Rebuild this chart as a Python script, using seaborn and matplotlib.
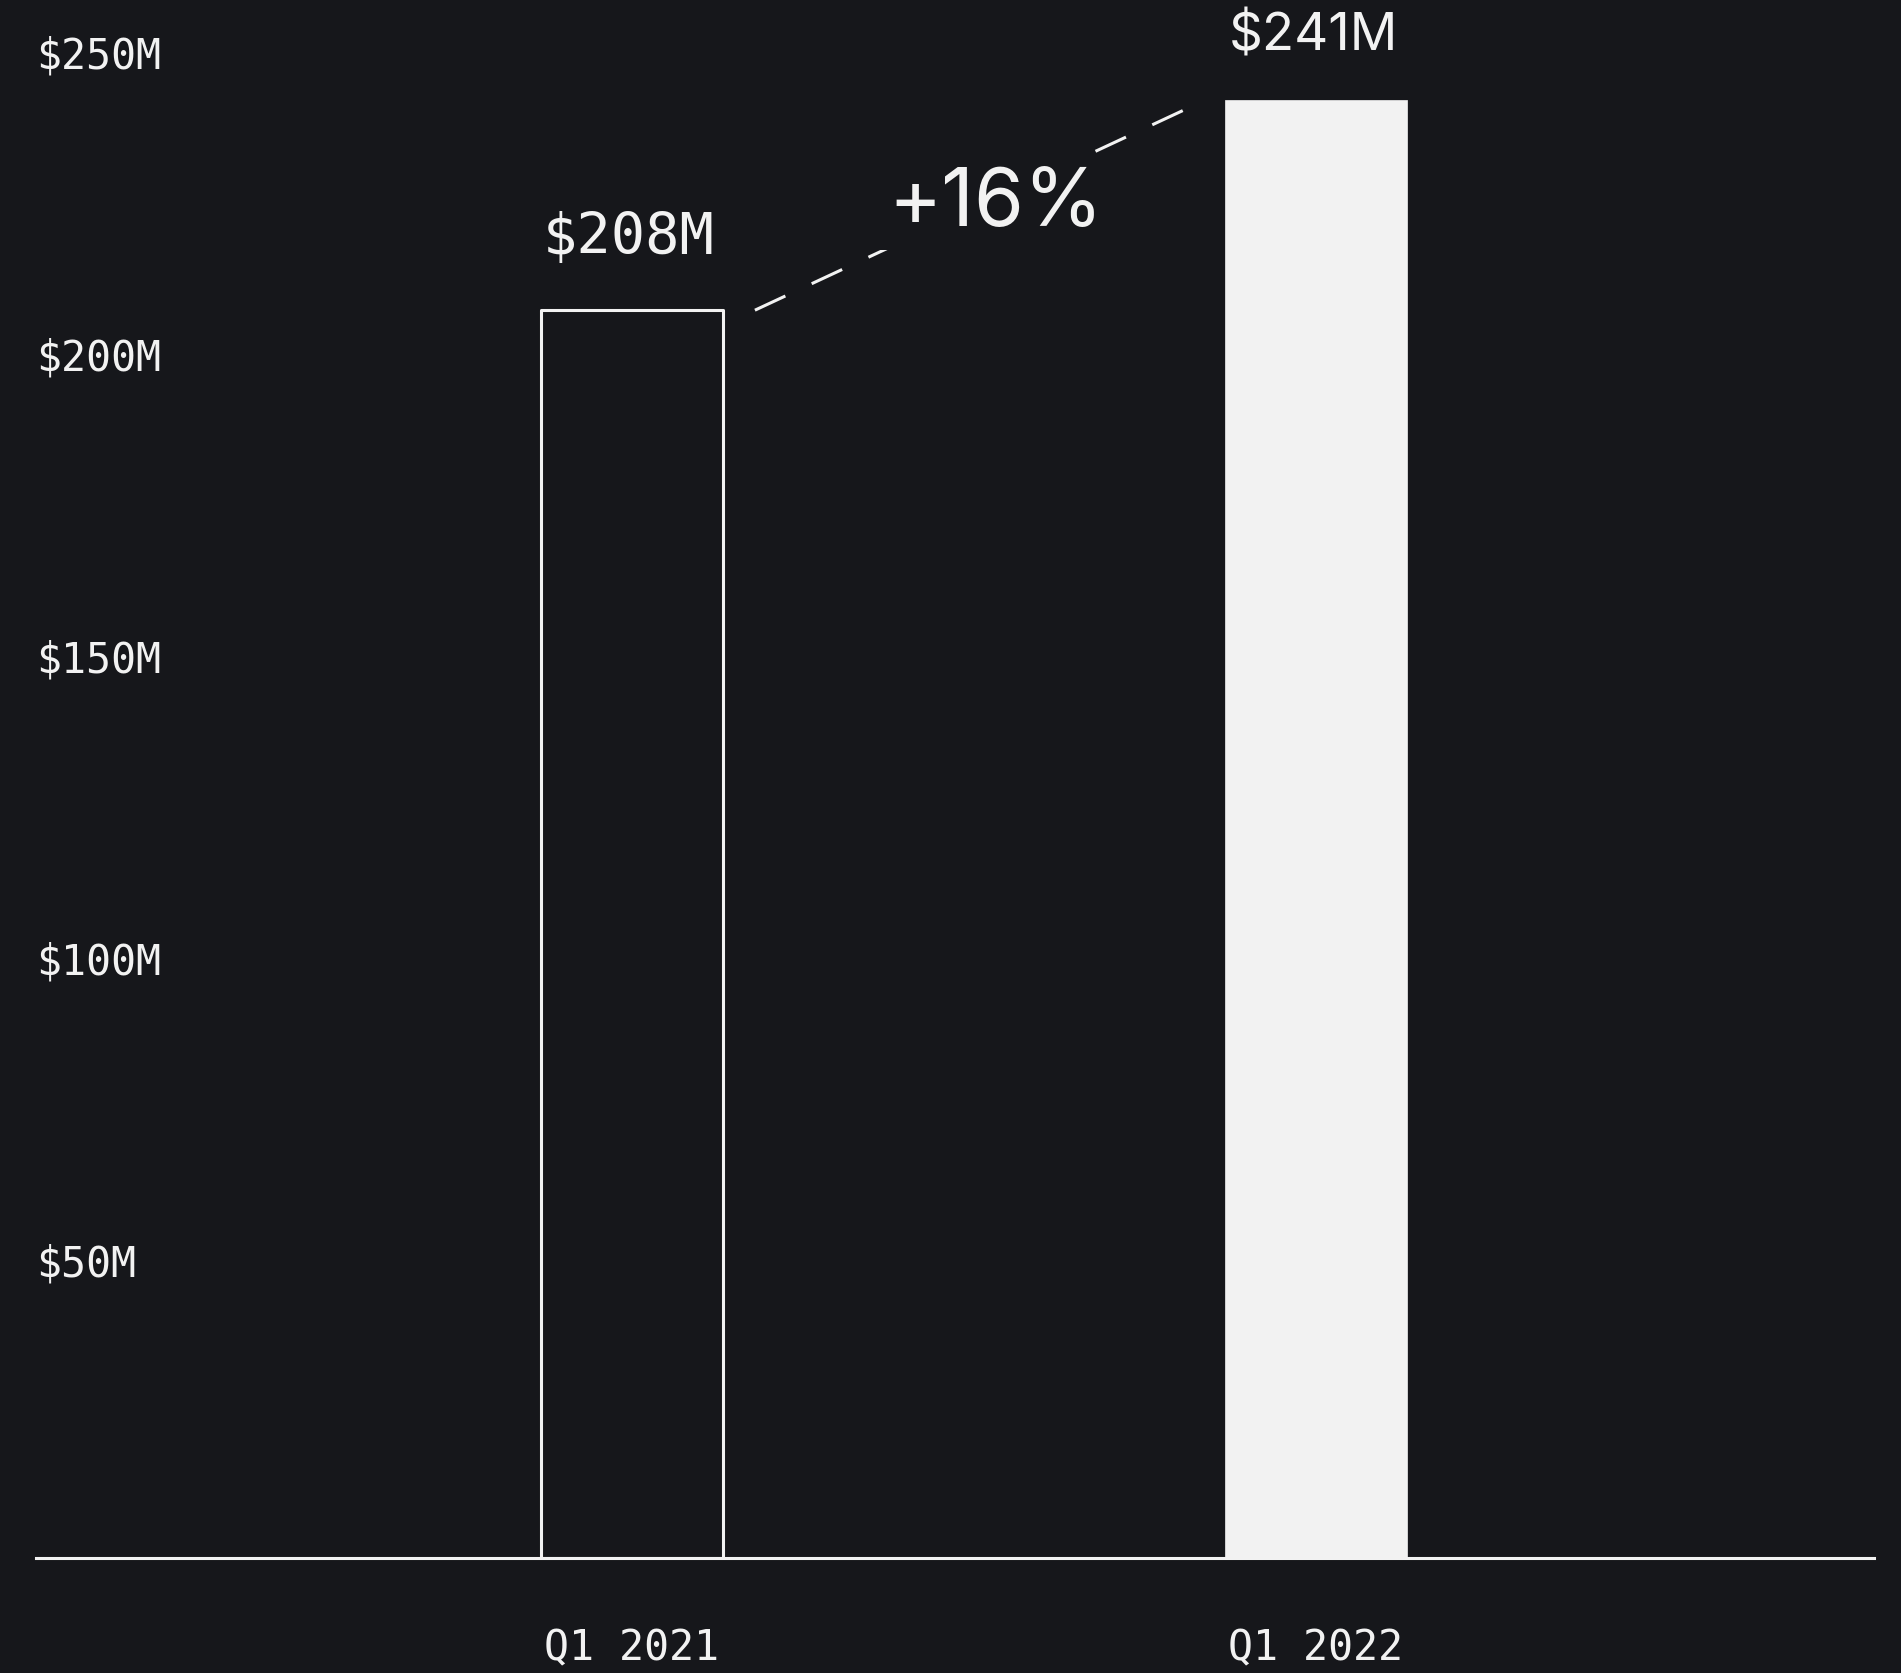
import matplotlib
matplotlib.use("Agg")
import matplotlib.pyplot as plt
import matplotlib.transforms as mtransforms
import seaborn as sns

# ---- data ----
categories = ["Q1 2021", "Q1 2022"]
revenue = [206.5, 241.3]                   # bar heights as drawn ($M)
value_labels = ["$208M", "$241M"]
ytick_values = [50, 100, 150, 200, 250]
ytick_labels = ["$50M", "$100M", "$150M", "$200M", "$250M"]
growth_label = "+16%"

# ---- style ----
BG = "#16171b"
FG = "#f2f2f2"
MONO = ["DejaVu Sans Mono"]
SANS = ["Inter", "DejaVu Sans"]

sns.set_theme(style="dark")
plt.rcParams["font.family"] = MONO

W, H = 1901, 1674
fig = plt.figure(figsize=(W / 100, H / 100), dpi=100, facecolor=BG)
ax = fig.add_axes([36 / W, (H - 1559) / H, (1874 - 36) / W, 1559 / H])
ax.set_facecolor(BG)

bar_w = 0.266
sns.barplot(x=categories, y=revenue, ax=ax, width=bar_w, color=FG,
            saturation=1, zorder=2)

p0, p1 = ax.patches[0], ax.patches[1]
p0.set_facecolor(BG)
p0.set_edgecolor(FG)
p0.set_linewidth(2.2)
p0.set_joinstyle("round")
p1.set_facecolor(FG)
p1.set_edgecolor(FG)
p1.set_linewidth(0.5)

ax.set_xlim(-0.871, 1.816)
ax.set_ylim(0, 258)

for s in ["top", "right", "left"]:
    ax.spines[s].set_visible(False)
ax.spines["bottom"].set_color(FG)
ax.spines["bottom"].set_linewidth(2.2)
ax.spines["bottom"].set_zorder(5)
ax.grid(False)

# y ticks inside on the left
ax.set_yticks(ytick_values)
ax.set_yticklabels(ytick_labels)
ax.tick_params(axis="y", length=0, pad=0, colors=FG, labelsize=30)
shift = mtransforms.ScaledTranslation(0, -8 / 100, fig.dpi_scale_trans)
for t in ax.get_yticklabels():
    t.set_horizontalalignment("left")
    t.set_verticalalignment("center")
    t.set_fontfamily(MONO)
    t.set_transform(t.get_transform() + shift)

# x ticks
ax.tick_params(axis="x", length=0, pad=49, colors=FG, labelsize=30)
for t in ax.get_xticklabels():
    t.set_fontfamily(MONO)
ax.set_xlabel("")
ax.set_ylabel("")

# value labels
label_fonts = [MONO, SANS]
label_sizes = [41, 38]
label_offsets = [52, 46]
for i, (v, lab) in enumerate(zip(revenue, value_labels)):
    ax.annotate(lab, (i, v), xytext=(-2, label_offsets[i]),
                textcoords="offset points", ha="center", va="center",
                color=FG, fontsize=label_sizes[i], family=label_fonts[i])

# dashed growth connector
gap = 0.047
x0, y0 = 0 + bar_w / 2 + gap, revenue[0]
x1, y1 = 1 - bar_w / 2 - gap, revenue[1] - 1
ax.plot([x0, x1], [y0, y1], color=FG, lw=2.2, dashes=(11, 9.5),
        solid_capstyle="butt", dash_capstyle="butt", zorder=3)

xm = x0 + (x1 - x0) * 0.55
ym = y0 + (y1 - y0) * 0.55 - 1
ax.text(xm, ym, growth_label, ha="center", va="center", color=FG,
        fontsize=58, family=SANS, zorder=4,
        bbox=dict(facecolor=BG, edgecolor="none", pad=6))

fig.savefig("out.png", dpi=100, facecolor=BG)
